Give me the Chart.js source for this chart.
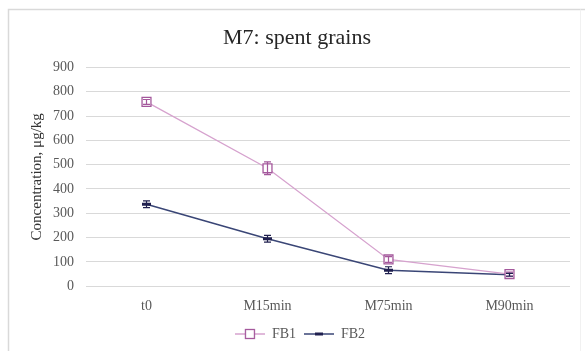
<!DOCTYPE html>
<html>
<head>
<meta charset="utf-8">
<title>M7: spent grains</title>
<script src="https://cdn.jsdelivr.net/npm/chart.js@4"></script>
<style>
  html, body { margin: 0; padding: 0; background: #fff; }
  #wrap { width: 585px; height: 351px; position: relative; }
</style>
</head>
<body>
<div id="wrap"><canvas id="chart" width="585" height="351"></canvas></div>
<script>
// Sampling points along the mashing programme
const categories = ['t0', 'M15min', 'M75min', 'M90min'];

// Mean concentration (µg/kg) and standard deviation per point
const fb1Values = [758, 485, 110, 50];
const fb1Errors = [10, 26, 12, 8];
const fb2Values = [337, 195, 66, 47];
const fb2Errors = [14, 14, 14, 6];

// Value axis range
const yMin = 0;
const yMax = 900;
const yStep = 100;

const TEXT = '#595959';
const SERIF = "'Liberation Serif', 'Times New Roman', serif";

const FB1_LINE = '#d6a2ce';
const FB1_MARK = '#a4589c';
const FB2_LINE = '#3a4676';
const FB2_MARK = '#20204f';

// Small legend swatches: a line segment with the series marker on it
function legendIcon(lineColor, drawMarker) {
  const c = document.createElement('canvas');
  c.width = 30; c.height = 12;
  const g = c.getContext('2d');
  g.strokeStyle = lineColor;
  g.lineWidth = 1.5;
  g.beginPath(); g.moveTo(0, 6); g.lineTo(30, 6); g.stroke();
  drawMarker(g);
  return c;
}
const fb1Icon = legendIcon(FB1_LINE, g => {
  g.fillStyle = '#fff';
  g.strokeStyle = FB1_MARK;
  g.lineWidth = 1.3;
  g.fillRect(10.5, 1.5, 9, 9);
  g.strokeRect(10.5, 1.5, 9, 9);
});
const fb2Icon = legendIcon(FB2_LINE, g => {
  g.strokeStyle = FB2_MARK;
  g.lineWidth = 3;
  g.beginPath(); g.moveTo(11, 6); g.lineTo(19, 6); g.stroke();
});

// Light outline around the chart area
const frame = {
  id: 'frame',
  beforeDraw(chart) {
    const { ctx } = chart;
    ctx.save();
    ctx.fillStyle = '#fff';
    ctx.fillRect(0, 0, chart.width, chart.height);
    ctx.strokeStyle = '#d9d9d9';
    ctx.lineWidth = 1.5;
    ctx.beginPath();
    ctx.moveTo(8.5, chart.height);
    ctx.lineTo(8.5, 9.5);
    ctx.lineTo(chart.width, 9.5);
    ctx.stroke();
    ctx.strokeStyle = '#f1f1f1';
    ctx.lineWidth = 1;
    ctx.beginPath();
    ctx.moveTo(580.5, 9.5);
    ctx.lineTo(580.5, chart.height);
    ctx.stroke();
    ctx.restore();
  }
};

// Centre the title and legend on the whole frame rather than the padded box
const recentre = {
  id: 'recentre',
  afterLayout(chart) {
    const shift = (box, dx) => {
      if (!box) return;
      box.left += dx;
      box.right += dx;
    };
    shift(chart.titleBlock, 12);
    shift(chart.legend, 15);
  }
};

// Vertical ± error bars with caps, drawn over the markers
const errorBars = {
  id: 'errorBars',
  afterDatasetsDraw(chart) {
    const { ctx } = chart;
    const yScale = chart.scales.y;
    chart.data.datasets.forEach((ds, i) => {
      if (!ds.errors) return;
      const meta = chart.getDatasetMeta(i);
      ctx.save();
      ctx.strokeStyle = ds.errorColor;
      ctx.lineWidth = 1.2;
      meta.data.forEach((pt, j) => {
        const v = ds.data[j];
        const e = ds.errors[j];
        const top = yScale.getPixelForValue(v + e);
        const bot = yScale.getPixelForValue(v - e);
        const x = pt.x;
        const cap = 3.5;
        ctx.beginPath();
        ctx.moveTo(x, top); ctx.lineTo(x, bot);
        ctx.moveTo(x - cap, top); ctx.lineTo(x + cap, top);
        ctx.moveTo(x - cap, bot); ctx.lineTo(x + cap, bot);
        ctx.stroke();
      });
      ctx.restore();
    });
  }
};

new Chart(document.getElementById('chart'), {
  type: 'line',
  data: {
    labels: categories,
    datasets: [
      {
        label: 'FB1',
        data: fb1Values,
        errors: fb1Errors,
        errorColor: FB1_MARK,
        borderColor: FB1_LINE,
        borderWidth: 1.3,
        pointStyle: 'rect',
        pointRadius: 6.3,
        pointHoverRadius: 6.3,
        pointBorderColor: FB1_MARK,
        pointBackgroundColor: '#fff',
        pointBorderWidth: 1.3,
        tension: 0
      },
      {
        label: 'FB2',
        data: fb2Values,
        errors: fb2Errors,
        errorColor: FB2_MARK,
        borderColor: FB2_LINE,
        borderWidth: 1.5,
        pointStyle: 'line',
        pointRadius: 4.5,
        pointHoverRadius: 4.5,
        pointBorderColor: FB2_MARK,
        pointBackgroundColor: FB2_MARK,
        pointBorderWidth: 3,
        tension: 0
      }
    ]
  },
  options: {
    responsive: false,
    animation: false,
    devicePixelRatio: 1,
    layout: { padding: { left: 0, right: 15, top: 0, bottom: 0 } },
    plugins: {
      title: {
        display: true,
        text: 'M7: spent grains',
        color: '#262626',
        font: { family: SERIF, size: 22, weight: 'normal' },
        padding: { top: 25, bottom: 16 }
      },
      legend: {
        position: 'bottom',
        labels: {
          usePointStyle: true,
          pointStyleWidth: 30,
          color: TEXT,
          font: { family: SERIF, size: 14 },
          padding: 8,
          generateLabels(chart) {
            return chart.data.datasets.map((ds, i) => ({
              text: ds.label,
              pointStyle: i === 0 ? fb1Icon : fb2Icon,
              fontColor: TEXT,
              lineWidth: 0,
              strokeStyle: 'transparent',
              fillStyle: 'transparent',
              hidden: false,
              datasetIndex: i
            }));
          }
        }
      },
      tooltip: { enabled: false }
    },
    scales: {
      x: {
        type: 'category',
        offset: true,
        grid: { display: false },
        border: { display: false },
        ticks: {
          color: TEXT,
          font: { family: SERIF, size: 14 },
          padding: 4,
          maxRotation: 0
        }
      },
      y: {
        min: yMin,
        max: yMax,
        afterFit(scale) { scale.width = 86; },
        grid: { color: '#d9d9d9', lineWidth: 1, drawTicks: false },
        border: { display: false },
        ticks: {
          stepSize: yStep,
          color: TEXT,
          font: { family: SERIF, size: 14 },
          padding: 12
        },
        title: {
          display: true,
          text: 'Concentration, μg/kg',
          color: '#333',
          font: { family: SERIF, size: 15 },
          padding: { top: 28, bottom: 0 }
        }
      }
    }
  },
  plugins: [frame, recentre, errorBars]
});
</script>
</body>
</html>
